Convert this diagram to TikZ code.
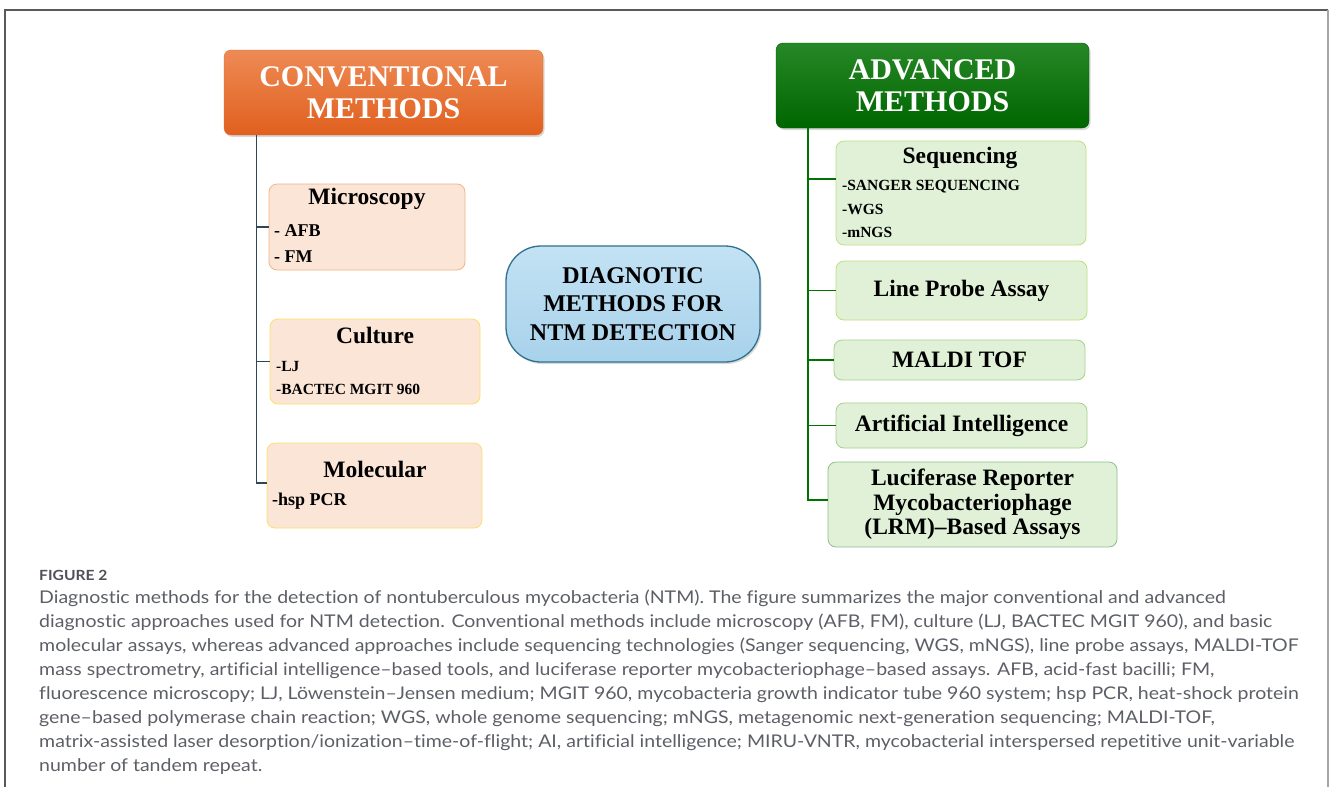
\documentclass[tikz,border=0pt]{standalone}
\usepackage{fontspec}
\setmainfont{Liberation Serif}
\newfontfamily\capfont{Lato}[FakeStretch=1.115,Ligatures=NoCommon]
\usetikzlibrary{shadows}

\definecolor{peachfill}{HTML}{FBE5D6}
\definecolor{peachline}{HTML}{F2B488}
\definecolor{greenfill}{HTML}{E0F1D8}
\definecolor{greenline}{HTML}{A6CF8A}
\definecolor{capgrey}{HTML}{5C5F66}
\definecolor{orangetop}{HTML}{EE8A55}
\definecolor{orangebot}{HTML}{E0601E}
\definecolor{bluetop}{HTML}{C3E2F4}
\definecolor{bluebot}{HTML}{A8D2EB}
\definecolor{blueline}{HTML}{31708F}
\definecolor{slate}{HTML}{2E4657}

\begin{document}
\begin{tikzpicture}[x=1pt,y=-1pt,
    head/.style={rounded corners=7pt,inner sep=0pt,text=white,align=center,
      font=\fontsize{30}{31.5}\selectfont\bfseries,
      drop shadow={opacity=0.3,shadow xshift=1.5pt,shadow yshift=-2pt}},
    peachbox/.style={draw=peachline,fill=peachfill,rounded corners=8pt,line width=0.8pt,inner sep=0pt},
    greenbox/.style={draw=greenline,fill=greenfill,rounded corners=8pt,line width=0.8pt,inner sep=0pt,
      align=center,font=\fontsize{23.5}{24.5}\selectfont\bfseries},
    title/.style={inner sep=0pt,font=\fontsize{23.5}{25}\selectfont\bfseries},
    item/.style={inner sep=0pt,anchor=west,font=\fontsize{18}{20}\selectfont\bfseries},
    smallitem/.style={item,font=\fontsize{15.5}{17}\selectfont\bfseries},
    ltrunk/.style={draw=slate,line width=1.3pt},
    rtrunk/.style={draw=green!45!black,line width=1.5pt}]
  \useasboundingbox (0,0) rectangle (1330,787);
  \draw[black!65,line width=1.2pt] (5,787) -- (5,10) -- (1328,10);
  \draw[black!35,line width=1.2pt] (1328,10) -- (1328,787);

  \node[head,top color=orangetop,bottom color=orangebot,
    draw=orangebot!90!white,minimum width=319,minimum height=85] (conv) at (383.5,92.5) {CONVENTIONAL\\METHODS};
  \node[head,top color=green!45!black!85!white,bottom color=green!40!black,
    draw=green!35!black,minimum width=313,minimum height=85] (adv) at (932.5,85.5) {ADVANCED\\METHODS};

  \node[draw=blueline,line width=1.3pt,rounded corners=35pt,top color=bluetop,bottom color=bluebot,
    minimum width=254,minimum height=116,inner sep=0pt,align=center,font=\fontsize{24}{28.5}\selectfont\bfseries,
    drop shadow={opacity=0.3,shadow xshift=1.5pt,shadow yshift=-2pt}] (diag) at (633,304)
    {DIAGNOTIC\\METHODS FOR\\NTM DETECTION};

  \node[peachbox,minimum width=196,minimum height=86] (micro) at (367,227) {};
  \node[title] (microt) at (367,199) {Microscopy};
  \node[item] (afb) at (274,231) {- AFB};
  \node[item] (fm) at (274,257) {- FM};

  \node[peachbox,draw=orange!45!yellow!60,minimum width=210,minimum height=85] (cult) at (375,361.5) {};
  \node[title] (cultt) at (375,335) {Culture};
  \node[smallitem] (lj) at (276,366) {-LJ};
  \node[smallitem] (bactec) at (276,389) {-BACTEC MGIT 960};

  \node[peachbox,draw=yellow!60!orange!55,minimum width=215,minimum height=85] (molec) at (374.5,485.5) {};
  \node[title] (molect) at (375,469) {Molecular};
  \node[item] (hsp) at (272,501) {-hsp PCR};

  \node[greenbox,draw=yellow!50!green!55,minimum width=250,minimum height=104] (seq) at (961,193) {};
  \node[title] (seqt) at (960,158) {Sequencing};
  \node[smallitem] (sanger) at (842,187) {-SANGER SEQUENCING};
  \node[smallitem] (wgs) at (842,209) {-WGS};
  \node[smallitem] (mngs) at (842,232) {-mNGS};

  \node[greenbox,draw=yellow!50!green!55,minimum width=251,minimum height=59] (lpa) at (961.5,290.5) {Line Probe Assay};
  \node[greenbox,minimum width=251,minimum height=40] (maldi) at (959.5,360) {MALDI TOF};
  \node[greenbox,minimum width=251,minimum height=45] (ai) at (961.5,425.5) {Artificial Intelligence};
  \node[greenbox,draw=green!45!black!45,minimum width=289,minimum height=85] (lrm) at (972.5,504.5)
    {Luciferase Reporter\\Mycobacteriophage\\(LRM)–Based Assays};

  \coordinate (lroot) at ([xshift=33pt]conv.south west);
  \draw[ltrunk] (lroot) |- (micro.west);
  \draw[ltrunk] (lroot) |- (cult.west);
  \draw[ltrunk] (lroot) |- ([yshift=2.5pt]molec.west);

  \coordinate (rroot) at ([xshift=32pt]adv.south west);
  \draw[rtrunk] (rroot) |- ([yshift=14pt]seq.west);
  \draw[rtrunk] (rroot) |- (lpa.west);
  \draw[rtrunk] (rroot) |- (maldi.west);
  \draw[rtrunk] (rroot) |- (ai.west);
  \draw[rtrunk] (rroot) |- ([yshift=4.5pt]lrm.west);

  \node[anchor=base west,inner sep=0pt,text=capgrey!85!black,font=\capfont\fontsize{14}{16}\selectfont\bfseries] (fig) at (39,580) {FIGURE 2};
  \node[anchor=north west,inner sep=0pt,align=left,text=capgrey,font=\capfont\fontsize{17.5}{24}\selectfont] (caption) at (39,590)
    {Diagnostic methods for the detection of nontuberculous mycobacteria (NTM). The figure summarizes the major conventional and advanced\\
     diagnostic approaches used for NTM detection. Conventional methods include microscopy (AFB, FM), culture (LJ, BACTEC MGIT 960), and basic\\
     molecular assays, whereas advanced approaches include sequencing technologies (Sanger sequencing, WGS, mNGS), line probe assays, MALDI-TOF\\
     mass spectrometry, artificial intelligence–based tools, and luciferase reporter mycobacteriophage–based assays. AFB, acid-fast bacilli; FM,\\
     fluorescence microscopy; LJ, Löwenstein–Jensen medium; MGIT 960, mycobacteria growth indicator tube 960 system; hsp PCR, heat-shock protein\\
     gene–based polymerase chain reaction; WGS, whole genome sequencing; mNGS, metagenomic next-generation sequencing; MALDI-TOF,\\
     matrix-assisted laser desorption/ionization–time-of-flight; AI, artificial intelligence; MIRU-VNTR, mycobacterial interspersed repetitive unit-variable\\
     number of tandem repeat.};
\end{tikzpicture}
\end{document}
